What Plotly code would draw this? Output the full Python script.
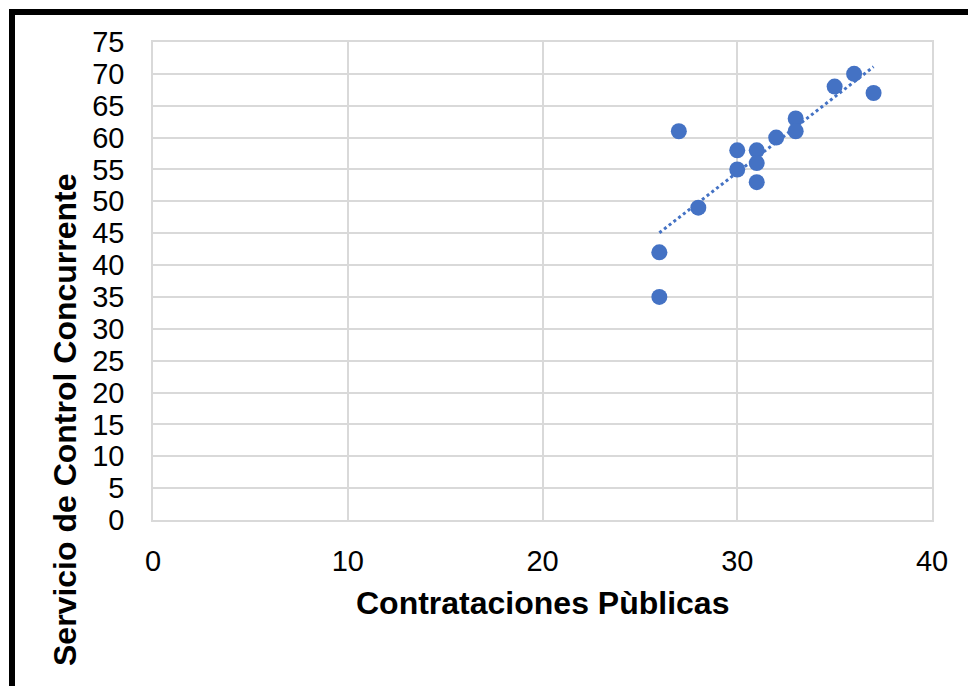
import numpy as np
import plotly.graph_objects as go

# Data
contrataciones = [26, 26, 27, 28, 30, 30, 31, 31, 31, 32, 33, 33, 35, 36, 37]
servicio = [35, 42, 61, 49, 58, 55, 58, 56, 53, 60, 63, 61, 68, 70, 67]
x_ticks = [0, 10, 20, 30, 40]
y_ticks = list(range(0, 80, 5))

x_title = "Contrataciones Pùblicas"
y_title = "Servicio de Control Concurrente"

OFF = 8  # default page body margin
W, H = 976 - OFF, 686 - OFF
L, T = 153 - OFF, 42 - OFF
R = W - (932 - OFF)
B = H - (520 - OFF)

color = "#4472C4"
font_family = "Liberation Sans, Arial"

# linear trendline
slope, intercept = np.polyfit(contrataciones, servicio, 1)
tx = [min(contrataciones), max(contrataciones)]
ty = [slope * v + intercept for v in tx]

fig = go.Figure()
fig.add_trace(go.Scatter(
    x=tx, y=ty, mode="lines",
    line=dict(color=color, width=3, dash="dot"),
    hoverinfo="skip", showlegend=False,
))
fig.add_trace(go.Scatter(
    x=contrataciones, y=servicio, mode="markers",
    marker=dict(color=color, size=16, line=dict(width=0)),
    showlegend=False,
))

grid = "#d9d9d9"
fig.update_xaxes(
    range=[0, 40], tickvals=x_ticks, showgrid=True, gridcolor=grid, gridwidth=1.5,
    zeroline=False, showline=True, linecolor=grid, linewidth=1.5, mirror=True,
    ticks="", tickfont=dict(family=font_family, size=29, color="black"),
    ticklabelstandoff=14,
)
fig.update_yaxes(
    range=[0, 75], tickvals=y_ticks, showgrid=True, gridcolor=grid, gridwidth=1.5,
    zeroline=False, showline=True, linecolor=grid, linewidth=1.5, mirror=True,
    ticks="", tickfont=dict(family=font_family, size=29, color="black"),
    ticklabelstandoff=21,
)


def px2paper_x(px):
    return (px - OFF - L) / (W - L - R)


def px2paper_y(py):
    return 1 - (py - OFF - T) / (H - T - B)


annotations = [
    dict(text=f"<b>{x_title}</b>", x=px2paper_x(542), y=px2paper_y(603),
         xref="paper", yref="paper", showarrow=False,
         font=dict(family=font_family, size=32, color="black"),
         xanchor="center", yanchor="middle"),
    dict(text=f"<b>{y_title}</b>", x=px2paper_x(65), y=px2paper_y(420),
         xref="paper", yref="paper", showarrow=False, textangle=-90,
         font=dict(family=font_family, size=32, color="black"),
         xanchor="center", yanchor="middle"),
]

shapes = [
    # top border
    dict(type="line", xref="paper", yref="paper",
         x0=px2paper_x(9), x1=px2paper_x(990), y0=px2paper_y(12), y1=px2paper_y(12),
         line=dict(color="black", width=6)),
    # left border
    dict(type="line", xref="paper", yref="paper",
         x0=px2paper_x(12), x1=px2paper_x(12), y0=px2paper_y(9), y1=px2paper_y(700),
         line=dict(color="black", width=6)),
]

fig.update_layout(
    width=W, height=H,
    margin=dict(l=L, r=R, t=T, b=B),
    paper_bgcolor="white", plot_bgcolor="white",
    annotations=annotations, shapes=shapes,
    showlegend=False,
)

fig.write_html("out.html")
